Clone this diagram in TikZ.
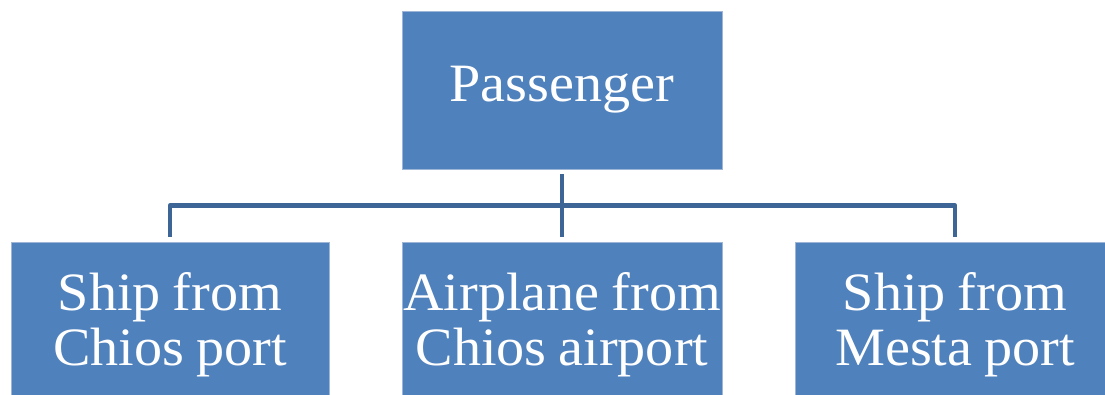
\documentclass[tikz,border=0pt]{standalone}
\usepackage{fontspec}
\setmainfont{Liberation Serif}[FakeStretch=1.04,WordSpace=0.85]
\definecolor{boxblue}{HTML}{4F81BD}
\definecolor{lineblue}{HTML}{3D6696}
\definecolor{edgeblue}{HTML}{9DB6D8}
\begin{document}
\begin{tikzpicture}[x=1bp,y=-1bp,
  box/.style={fill=boxblue,draw=edgeblue,line width=0.8bp,inner sep=0pt,
    text=white,align=center,
    font=\fontsize{54bp}{55bp}\selectfont},
  link/.style={draw=lineblue,line width=4.5bp,line join=round,
    shorten <=5bp,shorten >=5bp}]
\useasboundingbox (0,0) rectangle (1105,394);
\clip (0,0) rectangle (1105,394);
\node[box,minimum width=320bp,minimum height=158bp] (top) at (562,90) {\raisebox{-3bp}{Passenger}};
\node[box,minimum width=318bp,minimum height=166bp] (left) at (170,325) {Ship from\\Chios port};
\node[box,minimum width=320bp,minimum height=166bp] (mid) at (562,325) {Airplane from\\Chios airport};
\node[box,minimum width=320bp,minimum height=166bp] (right) at (955,325) {Ship from\\Mesta port};
\draw[link] (top.south) -- (mid.north);
\draw[link] (left.north) -- ++(0,-36) -| (right.north);
\end{tikzpicture}
\end{document}
